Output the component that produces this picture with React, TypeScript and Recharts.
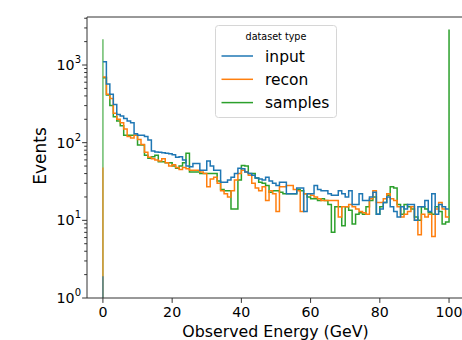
import { LineChart, Line, XAxis, YAxis, ReferenceLine, Legend } from 'recharts';

// bin edges 0..100 GeV, 1 GeV wide bins
const EDGES = Array.from({ length: 101 }, (_, i) => i);

const INPUT = [
  1100, 570, 420, 310, 230, 220, 205, 190, 180, 130,
  125, 125, 120, 108, 78, 76, 75, 74, 73, 72,
  70, 65, 66, 60, 50, 49, 54, 54, 44, 44,
  58, 50, 44, 44, 31, 31, 33, 36, 40, 47,
  46, 42, 40, 38, 35, 34, 33, 36, 32, 30,
  28, 31, 31, 22, 22, 22, 26, 26, 13, 22,
  22, 28, 25, 24, 24, 22, 21, 21, 24, 22,
  20, 24, 16, 16, 22, 18, 18, 20, 23, 12,
  14, 17, 20, 15, 13, 11, 15, 14, 16, 16,
  10, 15, 15, 18, 13, 22, 12, 16, 15, 14,
];

const RECON = [
  700, 420, 370, 240, 200, 180, 150, 120, 115, 125,
  110, 95, 75, 65, 62, 60, 58, 62, 55, 50,
  52, 48, 45, 48, 46, 44, 44, 44, 42, 40,
  27, 34, 36, 30, 24, 22, 20, 24, 33, 40,
  44, 42, 38, 30, 26, 24, 27, 18, 24, 22,
  13, 27, 27, 28, 28, 25, 24, 13, 22, 22,
  21, 20, 19, 18, 18, 18, 18, 18, 11, 15,
  15, 16, 15, 14, 13, 12.5, 12, 19, 24, 17,
  17, 19, 22, 19, 18, 15, 11, 12, 13, 15,
  10, 6.5, 12, 11, 12, 6.2, 14, 17, 14, 11,
];

const SAMPLES = [
  684, 410, 300, 215, 190, 165, 125, 125, 125, 125,
  93, 93, 69, 63, 66, 69, 57, 57, 55, 55,
  50, 47, 50, 55, 73, 42, 42, 42, 40, 40,
  40, 40, 40, 32, 25, 24, 24, 14, 14, 33,
  51, 50, 40, 40, 35, 31, 30, 28, 23, 24,
  24, 23, 22, 22, 22, 22, 25, 24, 22, 20,
  19, 19, 18, 19, 18, 16, 7, 15, 15, 8.5,
  15, 13.5, 9, 12, 12.5, 12, 15, 18, 20, 12,
  15, 17, 21, 27, 26, 16, 12, 16, 15, 14,
  11, 10, 15, 14, 12.5, 12, 15, 13, 9, 9.5,
];

// events piled up at exactly 0 GeV and 100 GeV
const INPUT_ZERO = 1.9;
const RECON_ZERO = 48;
const SAMPLES_ZERO = 2140;
const SAMPLES_END = 2870;

const X_TICKS = [0, 20, 40, 60, 80, 100];
const X_MIN = -4.6;
const X_MAX = 104.9;
const Y_MAX = 4150;
const Y_TICKS = [1, 10, 100, 1000].flatMap(d => [1, 2, 3, 4, 5, 6, 7, 8, 9].map(m => m * d)).filter(v => v <= Y_MAX);

const COLORS = { input: '#1f77b4', recon: '#ff7f0e', samples: '#2ca02c' };
const FONT = '"DejaVu Sans", sans-serif';
const AXIS = '#333';

const rows = EDGES.map((x, i) => ({
  x,
  input: INPUT[Math.min(i, INPUT.length - 1)],
  recon: RECON[Math.min(i, RECON.length - 1)],
  samples: i < SAMPLES.length ? SAMPLES[i] : SAMPLES_END,
}));

const spike = (v: number) => [{ x: 0, v: 1 }, { x: 0, v }];

function YTick({ x, y, payload }: any) {
  const v = payload.value;
  const exp = Math.round(Math.log10(v));
  const major = Math.abs(Math.pow(10, exp) - v) < 1e-6;
  return (
    <g>
      <line x1={x - (major ? 4.9 : 2.8)} x2={x} y1={y} y2={y} stroke={AXIS} strokeWidth={1} />
      {major && (
        <text x={x - 6} y={y + 5} textAnchor="end" fontFamily={FONT} fontSize={14.2} fill="#000">
          <tspan>10</tspan>
          <tspan dy={-7} fontSize={10}>{exp}</tspan>
        </text>
      )}
    </g>
  );
}

function XTick({ x, y, payload }: any) {
  return (
    <g>
      <line x1={x} x2={x} y1={y} y2={y + 4.9} stroke={AXIS} strokeWidth={1} />
      <text x={x} y={y + 19} textAnchor="middle" fontFamily={FONT} fontSize={14.2} fill="#000">
        {payload.value}
      </text>
    </g>
  );
}

function LegendBox() {
  const items: [string, string][] = [
    ['input', COLORS.input],
    ['recon', COLORS.recon],
    ['samples', COLORS.samples],
  ];
  return (
    <svg width={122} height={93} style={{ display: 'block' }}>
      <rect x={0.5} y={0.5} width={121} height={92} rx={3} fill="rgba(255,255,255,0.8)" stroke="#d6d6d6" />
      <text x={61} y={14.5} textAnchor="middle" fontFamily={FONT} fontSize={9.6} fill="#000">dataset type</text>
      {items.map(([name, color], i) => {
        const cy = 31 + i * 23.3;
        return (
          <g key={name}>
            <line x1={6.5} x2={38} y1={cy} y2={cy} stroke={color} strokeWidth={1.5} />
            <text x={50} y={cy + 5.5} fontFamily={FONT} fontSize={15.5} fill="#000">{name}</text>
          </g>
        );
      })}
    </svg>
  );
}

export default function App() {
  return (
    <div style={{ position: 'fixed', left: 0, top: 0, width: 462, height: 340, overflow: 'hidden', background: '#fff' }}>
      <LineChart width={466} height={340} data={rows} margin={{ top: 17, right: 0, bottom: 0, left: 0 }}>
        <XAxis
          dataKey="x"
          type="number"
          domain={[X_MIN, X_MAX]}
          allowDataOverflow
          ticks={X_TICKS}
          interval={0}
          tickLine={false}
          tickSize={0}
          tickMargin={0}
          tick={<XTick />}
          height={42}
          stroke={AXIS}
          label={{
            content: ({ viewBox }: any) => (
              <text x={viewBox.x + viewBox.width / 2 - 1} y={viewBox.y + 39} textAnchor="middle" fontFamily={FONT} fontSize={15.8} fill="#000">
                Observed Energy (GeV)
              </text>
            ),
          }}
        />
        <YAxis
          type="number"
          scale="log"
          domain={[1, Y_MAX]}
          allowDataOverflow
          ticks={Y_TICKS}
          interval={0}
          tickLine={false}
          tickSize={0}
          tickMargin={0}
          tick={<YTick />}
          width={87}
          stroke={AXIS}
          label={{
            content: () => (
              <text x={46} y={156} transform="rotate(-90 46 156)" textAnchor="middle" fontFamily={FONT} fontSize={17} fill="#000">
                Events
              </text>
            ),
          }}
        />
        <ReferenceLine y={Y_MAX} stroke={AXIS} strokeWidth={1} />
        <ReferenceLine x={X_MAX} stroke={AXIS} strokeWidth={1} />

        <Line data={spike(SAMPLES_ZERO)} dataKey="v" type="linear" stroke={COLORS.samples} strokeOpacity={0.7} strokeWidth={1.5} dot={false} isAnimationActive={false} legendType="none" />
        <Line data={spike(RECON_ZERO)} dataKey="v" type="linear" stroke={COLORS.recon} strokeOpacity={0.7} strokeWidth={1.5} dot={false} isAnimationActive={false} legendType="none" />
        <Line data={spike(INPUT_ZERO)} dataKey="v" type="linear" stroke={COLORS.input} strokeOpacity={0.7} strokeWidth={1.5} dot={false} isAnimationActive={false} legendType="none" />

        <Line dataKey="samples" type="stepAfter" stroke={COLORS.samples} strokeWidth={1.5} dot={false} isAnimationActive={false} />
        <Line dataKey="recon" type="stepAfter" stroke={COLORS.recon} strokeWidth={1.5} dot={false} isAnimationActive={false} />
        <Line dataKey="input" type="stepAfter" stroke={COLORS.input} strokeWidth={1.5} dot={false} isAnimationActive={false} />

        <Legend
          layout="vertical"
          align="center"
          verticalAlign="middle"
          content={() => <LegendBox />}
          wrapperStyle={{ left: 215, top: 25, width: 122, height: 93 }}
        />
      </LineChart>
    </div>
  );
}
